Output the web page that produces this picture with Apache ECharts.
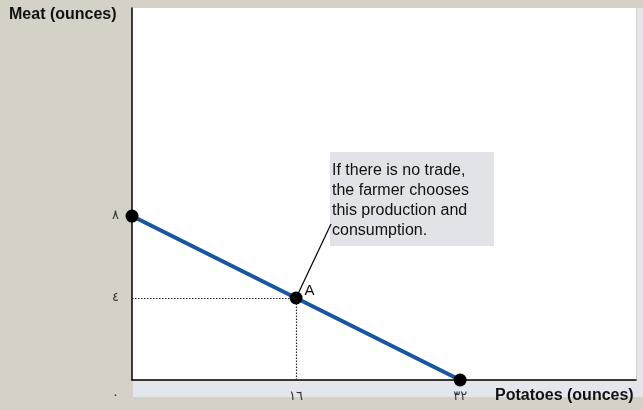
<!DOCTYPE html>
<html lang="en">
<head>
    <meta charset="UTF-8">
    <title>Production possibilities</title>
    <style>
        body { margin: 0; background: #d6d1c7; }
    </style>
</head>
<body>
    <div id="main" style="width: 643px;height: 410px;"></div>
    <script src="https://cdn.jsdelivr.net/npm/echarts@6/dist/echarts.min.js"></script>
    <script>
        // frontier endpoints + point A (potatoes, meat)
        var frontier = [[0, 8], [32, 0]];
        var pointA = [16, 4];
        var xTicks = {16: '١٦', 32: '٣٢'};
        var yTicks = {4: '٤', 8: '٨'};
        var zeroLabel = '٠';
        var xMax = 49.15, yMax = 18.15;

        var chart = echarts.init(document.getElementById('main'));
        chart.setOption({
            backgroundColor: '#d6d1c7',
            animation: false,
            grid: {
                left: 132, top: 8, right: 7, bottom: 30,
                show: true, backgroundColor: '#ffffff', borderWidth: 0
            },
            xAxis: {
                type: 'value', min: 0, max: xMax, interval: 16,
                axisLine: { show: true, onZero: false, lineStyle: { color: '#000', width: 1.5 } },
                axisTick: { show: false },
                splitLine: { show: false },
                axisLabel: {
                    margin: 10, color: '#333', fontSize: 13, fontFamily: 'DejaVu Sans',
                    showMaxLabel: false,
                    formatter: function (v) { return xTicks[v] || ''; }
                }
            },
            yAxis: {
                type: 'value', min: 0, max: yMax, interval: 4,
                axisLine: { show: true, onZero: false, lineStyle: { color: '#000', width: 1.5 } },
                axisTick: { show: false },
                splitLine: { show: false },
                axisLabel: {
                    margin: 13, color: '#333', fontSize: 13, fontFamily: 'DejaVu Sans',
                    showMaxLabel: false,
                    formatter: function (v) { return yTicks[v] || ''; }
                }
            },
            graphic: [
                // light strip under the x axis and along the right edge
                { type: 'rect', z: 0, shape: { x: 133, y: 381, width: 510, height: 16 }, style: { fill: '#e3e6ed' } },
                { type: 'rect', z: 0, shape: { x: 637, y: 8, width: 6, height: 373 }, style: { fill: '#e3e6ed' } },
                { type: 'text', left: 9, top: 7, style: { text: 'Meat (ounces)', font: 'bold 16px "Liberation Sans", Arial', fill: '#111' } },
                { type: 'text', left: 495, top: 388, style: { text: 'Potatoes (ounces)', font: 'bold 16px "Liberation Sans", Arial', fill: '#111' } },
                { type: 'text', left: 112, top: 389, style: { text: zeroLabel, font: '13px "DejaVu Sans"', fill: '#333' } },
                // annotation box
                { type: 'rect', z: 5, shape: { x: 330, y: 152, width: 164, height: 94 }, style: { fill: '#e1e3e8' } },
                {
                    type: 'text', z: 6, left: 332, top: 161,
                    style: {
                        text: 'If there is no trade,\nthe farmer chooses\nthis production and\nconsumption.',
                        font: '16px "Liberation Sans", Arial', fill: '#111', lineHeight: 20
                    }
                }
            ],
            series: [
                {
                    type: 'line',
                    data: frontier,
                    lineStyle: { color: '#1a56a3', width: 4 },
                    symbol: 'circle', symbolSize: 13,
                    itemStyle: { color: '#000' },
                    z: 3
                },
                {
                    type: 'scatter',
                    data: [pointA],
                    symbolSize: 13,
                    itemStyle: { color: '#000', opacity: 1 },
                    z: 4,
                    label: {
                        show: true, position: [15, -8], formatter: 'A',
                        color: '#111', fontSize: 15, fontFamily: 'Liberation Sans'
                    },
                    markLine: {
                        silent: true, symbol: 'none',
                        lineStyle: { color: '#222', type: [1.5, 1.5], width: 1.2 },
                        label: { show: false },
                        data: [
                            [{ coord: [0, pointA[1]] }, { coord: pointA }],
                            [{ coord: [pointA[0], 0] }, { coord: pointA }],
                            // leader line to annotation
                            [{ coord: pointA, lineStyle: { type: 'solid', color: '#000', width: 1.2 } },
                             { x: 331, y: 224 }]
                        ]
                    }
                }
            ]
        });
    </script>
</body>
</html>
